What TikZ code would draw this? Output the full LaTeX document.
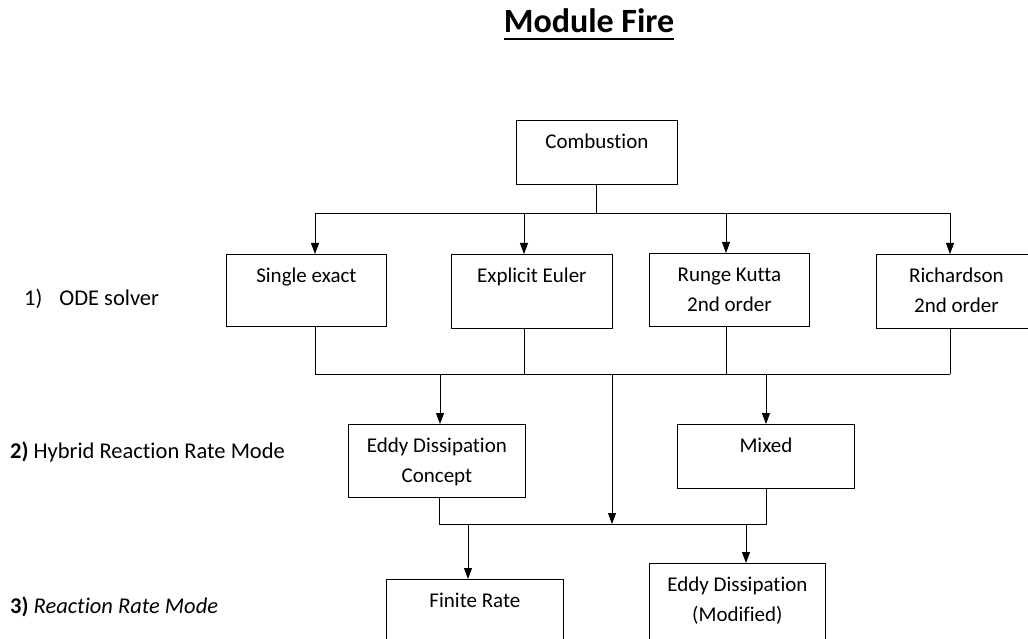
\documentclass[tikz,border=0pt]{standalone}
\usepackage{fontspec}
\setmainfont{Carlito}[Ligatures={NoCommon}]
\usetikzlibrary{arrows.meta}

\tikzset{
  box/.style={draw, line width=.8pt, anchor=north west, align=center,
    inner xsep=0pt, inner ysep=0pt, text height=28pt,
    font=\fontsize{21}{30}\selectfont},
  twoline/.style={text height=58pt},
  level/.style={anchor=west, inner xsep=0pt, font=\fontsize{22.5}{27}\selectfont},
  wire/.style={line width=.8pt},
  arr/.style={wire, -{Triangle[length=11pt,width=8pt]}}
}

\begin{document}
\begin{tikzpicture}[x=1pt,y=-1pt]
    \path[use as bounding box, clip] (0,0) rectangle (1028,639);
    % title
    \node (title) [anchor=base, inner sep=0pt, font=\fontsize{34}{40}\selectfont\bfseries] at (589,33) {Module Fire};
    \draw[line width=2.6pt] ([yshift=-6pt]title.base west) -- ([yshift=-6pt]title.base east);
    % levels
    \node[level] (lab1) at (24,299) {1)\hspace{17pt}ODE solver};
    \node[level] (lab2) at (10,452) {\textbf{2)} Hybrid Reaction Rate Mode};
    \node[level] (lab3) at (10,607) {\textbf{3)} \textit{Reaction Rate Mode}};
    % boxes
    \node[box, minimum width=161pt, text depth=36pt] (comb) at (516,120) {Combustion};
    \node[box, minimum width=160pt, text depth=44pt] (se) at (226,254) {Single exact};
    \node[box, minimum width=161pt, text depth=46pt] (ee) at (451,254) {Explicit Euler};
    \node[box, twoline, minimum width=160pt, text depth=15pt] (rk) at (649,253) {Runge Kutta\\2nd order};
    \node[box, twoline, minimum width=160pt, text depth=16pt] (ri) at (876,254) {Richardson\\2nd order};
    \node[box, twoline, minimum width=177pt, text depth=15pt] (edc) at (348,424) {Eddy Dissipation\\Concept};
    \node[box, minimum width=177pt, text depth=36pt] (mix) at (677,424) {Mixed};
    \node[box, minimum width=177pt, text depth=52pt] (fr) at (386,579) {Finite Rate};
    \node[box, twoline, minimum width=176pt, text depth=32pt] (edm) at (649,563) {Eddy Dissipation\\(Modified)};
    % combustion to ODE solvers
    \coordinate (c0) at (596,213);
    \draw[wire] (comb.south -| c0) -- (c0);
    \foreach \x/\n in {315/se, 524/ee, 726/rk, 950/ri} {
        \coordinate (t\n) at (\x,213);
        \coordinate (u\n) at (\x,374);
        \draw[arr] (t\n) -- (t\n |- \n.north);
        \draw[wire] (\n.south -| u\n) -- (u\n);
    }
    \draw[wire] (tse) -- (tri);
    \draw[wire] (use) -- (uri);
    % ODE solvers to hybrid mode
    \coordinate (v1) at (440,374);
    \coordinate (v2) at (612,374);
    \coordinate (v3) at (766,374);
    \coordinate (w1) at (439,524);
    \coordinate (w2) at (612,524);
    \coordinate (w3) at (766,524);
    \coordinate (w4) at (468,524);
    \coordinate (w5) at (746,524);
    \draw[arr] (v1) -- (v1 |- edc.north);
    \draw[arr] (v2) -- (w2);
    \draw[arr] (v3) -- (v3 |- mix.north);
    % hybrid mode to reaction rate mode
    \draw[wire] (edc.south -| w1) -- (w1) -- (w3) -- (mix.south -| w3);
    \draw[arr] (w4) -- (w4 |- fr.north);
    \draw[arr] (w5) -- (w5 |- edm.north);
\end{tikzpicture}
\end{document}
